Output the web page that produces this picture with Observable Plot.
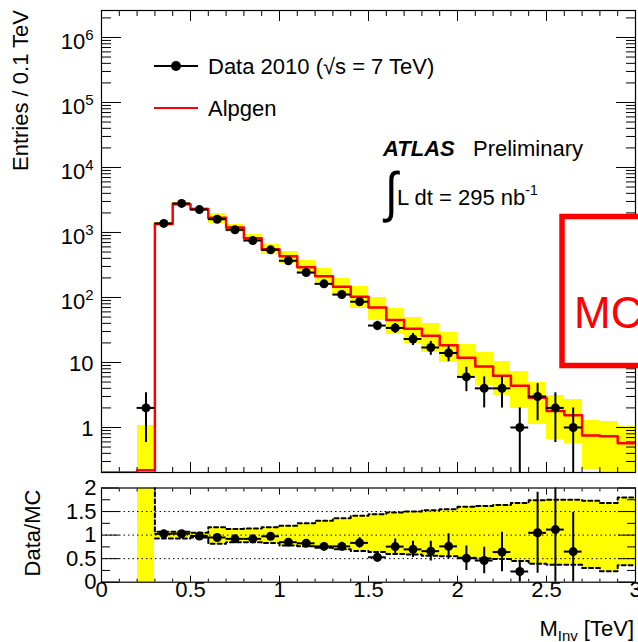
<!DOCTYPE html>
<html>
<head>
<meta charset="utf-8">
<script src="https://cdn.jsdelivr.net/npm/d3@7"></script>
<script src="https://cdn.jsdelivr.net/npm/@observablehq/plot@0.6"></script>
<style>
  html, body { margin: 0; padding: 0; background: white; }
  #chart { position: relative; width: 638px; height: 642px; overflow: hidden; }
  #chart svg { position: absolute; left: 0; }
</style>
</head>
<body>
<div id="chart"></div>
<script>
// Invariant-mass spectrum in 0.1 TeV bins (lower bin edges, TeV)
const binLow = [0.0, 0.1, 0.2, 0.3, 0.4, 0.5, 0.6, 0.7, 0.8, 0.9,
                1.0, 1.1, 1.2, 1.3, 1.4, 1.5, 1.6, 1.7, 1.8, 1.9,
                2.0, 2.1, 2.2, 2.3, 2.4, 2.5, 2.6, 2.7, 2.8, 2.9];
// Data 2010 entries per bin (null = no entry drawn)
const dataCounts = [null, null, 2, 1380, 2800, 2250, 1600, 1100, 753, 540,
                    367, 242, 162, 111, 86, 37, 34, 23, 17, 14,
                    6, 4, 4, 1, 3, 2, 1, null, null, null];
// Alpgen prediction per bin
const alpgen = [0, 0, 0.22, 1345, 2720, 2295, 1685, 1195, 818, 554,
                432, 293, 213, 146, 103, 70, 45, 33, 25.8, 18.4,
                11.8, 8.7, 6.25, 4.4, 2.86, 1.79, 1.54, 0.75, 0.73, 0.57];
// Alpgen uncertainty band, relative to the prediction (upper / lower edge)
const bandHi = [null, null, 4.8, 1.07, 1.07, 1.05, 1.165, 1.13, 1.14, 1.165,
                1.20, 1.25, 1.305, 1.36, 1.41, 1.445, 1.48, 1.50, 1.53, 1.55,
                1.60, 1.62, 1.64, 1.68, 1.74, 1.75, 1.75, 1.73, 1.68, 1.80];
const bandLo = [null, null, 0, 0.93, 0.93, 0.95, 0.815, 0.85, 0.85, 0.83,
                0.78, 0.765, 0.73, 0.70, 0.665, 0.64, 0.60, 0.59, 0.56, 0.55,
                0.52, 0.505, 0.49, 0.45, 0.39, 0.37, 0.37, 0.30, 0.23, 0.36];
// Uncertainty on Data/MC per bin
const ratioErr = [null, null, null, 0.03, 0.025, 0.025, 0.03, 0.035, 0.04, 0.05,
                  0.055, 0.065, 0.075, 0.09, 0.11, 0.10, 0.16, 0.17, 0.21, 0.27,
                  0.26, 0.28, 0.42, 0.235, 0.86, 1.2, 0.83, null, null, null];

// Axis ticks and labels
const xMajor = [0, 0.5, 1, 1.5, 2, 2.5, 3];
const xLabels = ["0", "0.5", "1", "1.5", "2", "2.5", "3"];
const yDecades = [1, 10, 100, 1e3, 1e4, 1e5, 1e6];
const yDecadeLabels = ["1", "10", "10^2", "10^3", "10^4", "10^5", "10^6"];
const ratioMajor = [0, 0.5, 1, 1.5, 2];
const ratioLabels = ["0", "0.5", "1", "1.5", "2"];
const ratioMinor = [0.25, 0.75, 1.25, 1.75];
const ratioGuides = [0.5, 1, 1.5];

const FONT = '"Liberation Sans", Arial, Helvetica, sans-serif';
const YELLOW = "#ffff00";
const RED = "#ff0000";

const yMin = 0.203, yMax = 2.6e6;
const clampY = v => Math.max(yMin, v);

const bins = binLow.map((lo, i) => ({
  lo, hi: Math.round((lo + 0.1) * 10) / 10, mid: Math.round((lo + 0.05) * 100) / 100,
  n: dataCounts[i], mc: alpgen[i], bHi: bandHi[i], bLo: bandLo[i], rErr: ratioErr[i]
}));
const dataBins = bins.filter(d => d.n != null);
const bandBins = bins.filter(d => d.bHi != null);
const ratioBins = bins.filter(d => d.rErr != null).map(d => ({...d, r: d.n / d.mc}));

const xMinor = d3.range(0, 31).map(i => i / 10).filter(v => !xMajor.includes(v));
const logMinor = [];
for (let k = -1; k <= 6; k++) for (let m = 2; m <= 9; m++) {
  const v = m * 10 ** k;
  if (v >= yMin && v <= yMax) logMinor.push(v);
}

// step outlines: one point per lower edge, closed at 3 TeV
const closeStep = (arr, key) => arr.map(d => ({x: d.lo, y: d[key]}))
  .concat([{x: 3, y: arr[arr.length - 1][key]}]);
const mcSteps = closeStep(bins, "mc");
const upperSteps = closeStep(bandBins, "bHi");
const lowerSteps = closeStep(bandBins.filter(d => d.lo >= 0.3), "bLo");

const inTicksX = (ticks, size) => [
  Plot.axisX({ticks, anchor: "bottom", tickSize: -size, fill: "none", label: null}),
  Plot.axisX({ticks, anchor: "top", tickSize: -size, fill: "none", label: null})
];
const inTicksY = (ticks, size) => [
  Plot.axisY({ticks, anchor: "left", tickSize: -size, fill: "none", label: null}),
  Plot.axisY({ticks, anchor: "right", tickSize: -size, fill: "none", label: null})
];

const style = {fontFamily: FONT, fontSize: "22px", background: "white", color: "black"};

// ---- upper panel: entries per bin, log scale ----
const main = Plot.plot({
  width: 638, height: 480,
  marginLeft: 101, marginRight: 3, marginTop: 10, marginBottom: 8,
  style,
  x: {domain: [0, 3]},
  y: {type: "log", domain: [yMin, yMax]},
  marks: [
    Plot.rect(bandBins, {x1: "lo", x2: "hi", y1: d => clampY(d.mc * d.bLo), y2: d => d.mc * d.bHi, fill: YELLOW, shapeRendering: "crispEdges", clip: true}),
    Plot.frame({stroke: "black", strokeWidth: 1.2}),
    ...inTicksX(xMajor, 10), ...inTicksX(xMinor, 5),
    ...inTicksY(yDecades, 20), ...inTicksY(logMinor, 10),
    Plot.line(mcSteps, {x: "x", y: d => clampY(d.y), curve: "step-after", stroke: RED, strokeWidth: 2.5, clip: true}),
    Plot.ruleX(dataBins, {x: "mid", y1: d => clampY(d.n - Math.sqrt(d.n)), y2: d => d.n + Math.sqrt(d.n), stroke: "black", strokeWidth: 2, clip: true}),
    Plot.ruleY(dataBins, {y: "n", x1: "lo", x2: "hi", stroke: "black", strokeWidth: 2}),
    Plot.dot(dataBins, {x: "mid", y: "n", r: 4.5, fill: "black", stroke: "none"}),
    Plot.text(yDecades.slice(0, 2), {y: d => d, text: (d, i) => yDecadeLabels[i], frameAnchor: "left", dx: -8, dy: 1.5, textAnchor: "end", fontSize: 22}),
    Plot.text(yDecades.slice(2), {y: d => d, text: (d, i) => yDecadeLabels[i + 2], frameAnchor: "left", dx: -8, dy: 4.5, textAnchor: "end", fontSize: 22})
  ]
});

// ---- lower panel: Data / MC ----
const ratio = Plot.plot({
  width: 638, height: 162,
  marginLeft: 101, marginRight: 3, marginTop: 7.5, marginBottom: 60.3,
  style,
  x: {domain: [0, 3]},
  y: {domain: [0, 2]},
  marks: [
    Plot.rect(bandBins, {x1: "lo", x2: "hi", y1: "bLo", y2: "bHi", fill: YELLOW, shapeRendering: "crispEdges", clip: true}),
    Plot.ruleY(ratioGuides, {stroke: "black", strokeWidth: 1, strokeDasharray: "1.5,3"}),
    Plot.line(upperSteps, {x: "x", y: "y", curve: "step-after", stroke: "black", strokeWidth: 2, strokeDasharray: "4,3", clip: true}),
    Plot.line(lowerSteps, {x: "x", y: "y", curve: "step-after", stroke: "black", strokeWidth: 2, strokeDasharray: "4,3", clip: true}),
    Plot.frame({stroke: "black", strokeWidth: 1.2}),
    ...inTicksX(xMajor, 6), ...inTicksX(xMinor, 3),
    ...inTicksY(ratioMajor, 18), ...inTicksY(ratioMinor, 9),
    Plot.ruleX(ratioBins, {x: "mid", y1: d => Math.max(0, d.r - d.rErr), y2: d => d.r + d.rErr, stroke: "black", strokeWidth: 2, clip: true}),
    Plot.ruleY(ratioBins, {y: "r", x1: "lo", x2: "hi", stroke: "black", strokeWidth: 2}),
    Plot.dot(ratioBins, {x: "mid", y: "r", r: 4.5, fill: "black", stroke: "none"}),
    Plot.text(xMajor, {x: d => d, text: (d, i) => xLabels[i], frameAnchor: "bottom", dy: 14.3, fontSize: 22}),
    Plot.text(ratioMajor, {y: d => d, text: (d, i) => ratioLabels[i], frameAnchor: "left", dx: -5, textAnchor: "end", fontSize: 22})
  ]
});

const chart = document.getElementById("chart");
main.style.top = "0px";
ratio.style.top = "480px";
ratio.style.overflow = "visible";
chart.append(main, ratio);

// superscript exponents on the decade labels
d3.select(main).selectAll("text").each(function () {
  if (!this.textContent.includes("^")) return;
  const [base, exp] = this.textContent.split("^");
  this.textContent = base;
  d3.select(this).append("tspan").attr("dy", -9).attr("font-size", 15).text(exp);
});

const ms = d3.select(main);
const txt = (sel, x, y, s, size = 22) => sel.append("text").attr("x", x).attr("y", y)
  .attr("text-anchor", "start").attr("font-family", FONT).attr("font-size", size)
  .attr("fill", "black").text(s);

// axis title, upper panel
ms.append("text").attr("transform", "translate(20.5,10) rotate(-90)")
  .attr("text-anchor", "end").attr("dy", "0.36em")
  .attr("font-family", FONT).attr("font-size", 22).attr("fill", "black").text("Entries / 0.1 TeV");

// legend
ms.append("line").attr("x1", 154).attr("x2", 198).attr("y1", 66).attr("y2", 66).attr("stroke", "black").attr("stroke-width", 2);
ms.append("circle").attr("cx", 176).attr("cy", 66).attr("r", 5).attr("fill", "black");
txt(ms, 208, 74, "Data 2010 (\u221As = 7 TeV)");
ms.append("line").attr("x1", 154).attr("x2", 198).attr("y1", 108).attr("y2", 108).attr("stroke", RED).attr("stroke-width", 2);
txt(ms, 208, 116, "Alpgen");

// experiment label
txt(ms, 383, 156, "ATLAS").attr("font-weight", "bold").attr("font-style", "italic");
txt(ms, 473, 156, "Preliminary");
txt(ms, 0, 0, "\u222B", 46).attr("transform", "translate(385,211) scale(1,1.2)");
const lumi = txt(ms, 397, 205, "L dt = 295 nb");
lumi.append("tspan").attr("dy", -10).attr("font-size", 14).text("-1");

// MC stamp
ms.append("rect").attr("x", 562).attr("y", 216.5).attr("width", 200).attr("height", 149)
  .attr("fill", "white").attr("stroke", RED).attr("stroke-width", 5.5);
txt(ms, 574, 328, "MC", 44).attr("fill", RED);

// lower panel titles
const rs = d3.select(ratio);
rs.append("text").attr("transform", "translate(31.7,53) rotate(-90)")
  .attr("text-anchor", "middle").attr("dy", "0.36em")
  .attr("font-family", FONT).attr("font-size", 22).attr("fill", "black").text("Data/MC");
const xt = rs.append("text").attr("x", 634).attr("y", 155.7).attr("text-anchor", "end")
  .attr("font-family", FONT).attr("font-size", 22).attr("fill", "black");
xt.append("tspan").text("M");
xt.append("tspan").attr("font-size", 15).attr("dy", 5).text("Inv");
xt.append("tspan").attr("dy", -5).text(" [TeV]");
</script>
</body>
</html>
